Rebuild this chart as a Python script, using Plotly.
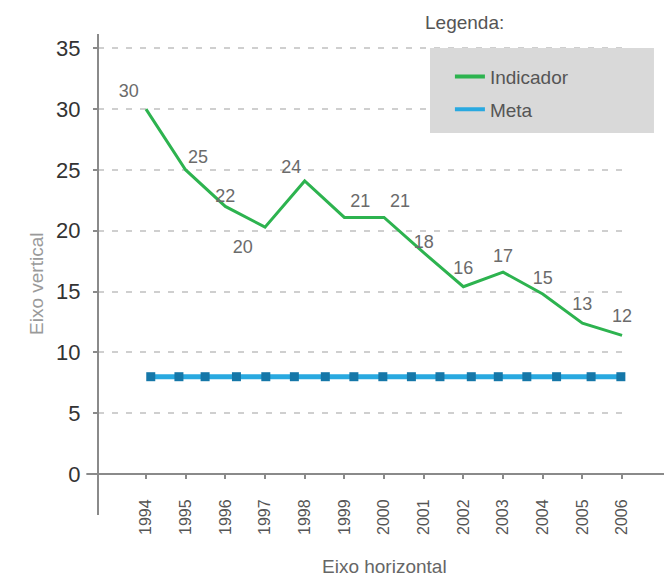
import plotly.graph_objects as go

# Indicador series (years, plotted values, printed labels)
anos = [1994, 1995, 1996, 1997, 1998, 1999, 2000, 2001, 2002, 2003, 2004, 2005, 2006]
indicador = [30, 25, 22, 20.3, 24.1, 21.1, 21.1, 18.2, 15.4, 16.6, 14.8, 12.4, 11.4]
rotulos = ["30", "25", "22", "20", "24", "21", "21", "18", "16", "17", "15", "13", "12"]
posicoes = ["top left", "top right", "top center", "bottom left", "top left", "top right",
            "top right", "top center", "top center", "top center", "top center",
            "top center", "top center"]
# spacing between each label and its point (invisible marker sizes)
afastamento = [10, 2, 0, 18, 4, 8, 8, 0, 12, 8, 8, 12, 12]

# Meta series (marker positions as drawn in the original)
meta_x = [1994.12, 1994.83, 1995.49, 1996.28, 1997.02, 1997.74, 1998.52, 1999.24, 1999.97,
          2000.69, 2001.41, 2002.20, 2002.88, 2003.60, 2004.35, 2005.22, 2005.97]
meta_y = [8] * len(meta_x)

y_ticks = [0, 5, 10, 15, 20, 25, 30, 35]

FONT = "Liberation Sans, Arial, sans-serif"
VERDE = "#2db34f"
AZUL = "#29a9e0"

fig = go.Figure()
fig.add_trace(go.Scatter(
    x=anos, y=indicador, mode="lines+markers+text",
    text=rotulos, textposition=posicoes, cliponaxis=False,
    textfont=dict(size=18, color="#6b6b6b", family=FONT),
    line=dict(color=VERDE, width=3),
    marker=dict(size=afastamento, color="rgba(0,0,0,0)", line=dict(width=0)),
    name="Indicador", showlegend=False, hoverinfo="skip",
))
fig.add_trace(go.Scatter(
    x=meta_x, y=meta_y, mode="lines+markers",
    line=dict(color=AZUL, width=5),
    marker=dict(symbol="square", size=9, color="#1577a8"),
    name="Meta", showlegend=False,
))
# legend entries (line swatches only, as in the original)
fig.add_trace(go.Scatter(x=[None], y=[None], mode="lines", line=dict(color=VERDE, width=4),
                         name="Indicador", legendgroup="a"))
fig.add_trace(go.Scatter(x=[None], y=[None], mode="lines", line=dict(color=AZUL, width=4),
                         name="Meta", legendgroup="b"))

# axis lines drawn as shapes so they can extend past the plot area
fig.add_shape(type="line", xref="paper", yref="paper", x0=-0.022, x1=1.07, y0=0, y1=0,
              line=dict(color="#8a8a8a", width=2), layer="above")
fig.add_shape(type="line", xref="paper", yref="paper", x0=0, x1=0, y0=-0.093, y1=1.0,
              line=dict(color="#8a8a8a", width=2), layer="above")
# legend box
fig.add_shape(type="rect", xref="paper", yref="paper", x0=0.6264, x1=1.049, y0=0.775, y1=0.968,
              fillcolor="#d9d9d9", line=dict(width=0), layer="above")

fig.add_annotation(text="Legenda:", xref="paper", yref="paper", x=0.613, y=1.027,
                   xanchor="left", yanchor="middle", showarrow=False,
                   font=dict(size=19, color="#555555", family=FONT))
fig.add_annotation(text="Eixo horizontal", xref="paper", yref="paper", x=0.5415, y=-0.211,
                   xanchor="center", yanchor="middle", showarrow=False,
                   font=dict(size=19, color="#666666", family=FONT))
fig.add_annotation(text="Eixo vertical", xref="paper", yref="paper", x=-0.115, y=0.432,
                   xanchor="center", yanchor="middle", showarrow=False, textangle=-90,
                   font=dict(size=19, color="#9a9a9a", family=FONT))

fig.update_xaxes(
    range=[1992.79, 2006.15], tickvals=anos, ticktext=[str(a) for a in anos],
    tickangle=-90, ticks="outside", ticklen=4, tickcolor="#8a8a8a", tickwidth=2,
    ticklabelstandoff=14, tickfont=dict(size=16, color="#555555", family=FONT),
    showgrid=False, zeroline=False, showline=False,
)
fig.update_yaxes(
    range=[0, 36.18], tickvals=y_ticks, ticks="outside", ticklen=4,
    tickcolor="#8a8a8a", tickwidth=2, ticklabelstandoff=8,
    tickfont=dict(size=22, color="#333333", family=FONT),
    showgrid=True, gridcolor="#cfcfcf", gridwidth=2, griddash="6px,8px",
    zeroline=False, showline=False,
)
fig.update_layout(
    width=664, height=579,
    margin=dict(l=98, r=36, t=34, b=105),
    plot_bgcolor="white", paper_bgcolor="white",
    showlegend=True,
    legend=dict(x=0.664, y=0.946, xanchor="left", yanchor="top",
                bgcolor="rgba(0,0,0,0)", tracegroupgap=5, traceorder="grouped",
                font=dict(size=19, color="#555555", family=FONT)),
)

fig.write_html("out.html", config={"displayModeBar": False},
               post_script="document.body.style.margin='0px';")
